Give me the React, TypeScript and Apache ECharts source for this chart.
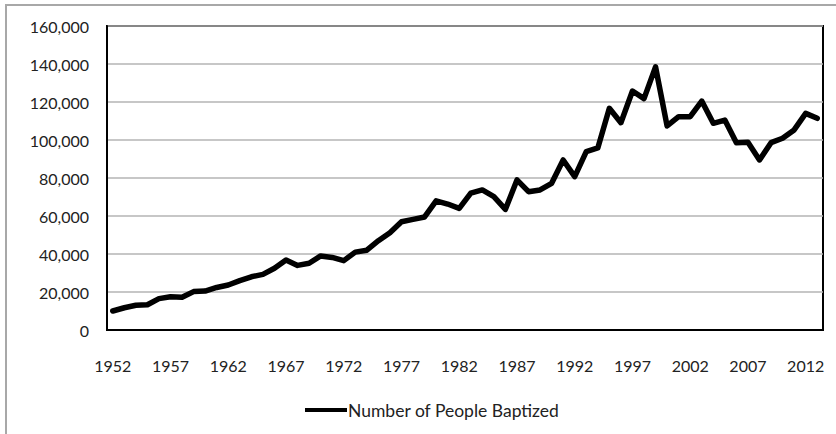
import React, { useEffect, useRef } from "react";
import * as echarts from "echarts";

const years: string[] = [
  "1952","1953","1954","1955","1956","1957","1958","1959","1960","1961",
  "1962","1963","1964","1965","1966","1967","1968","1969","1970","1971",
  "1972","1973","1974","1975","1976","1977","1978","1979","1980","1981",
  "1982","1983","1984","1985","1986","1987","1988","1989","1990","1991",
  "1992","1993","1994","1995","1996","1997","1998","1999","2000","2001",
  "2002","2003","2004","2005","2006","2007","2008","2009","2010","2011",
  "2012","2013",
];

const baptized: number[] = [
  10000, 11700, 13000, 13300, 16500, 17500, 17200, 20200, 20500, 22400,
  23700, 26000, 28000, 29300, 32500, 36800, 34000, 35100, 39000, 38200,
  36500, 41000, 42000, 47000, 51200, 57000, 58200, 59500, 68000, 66300,
  64000, 72000, 73700, 70200, 63500, 79000, 72800, 73700, 77200, 89500,
  80700, 93900, 95800, 116700, 109100, 125800, 121800, 138500, 107400, 112300,
  112300, 120500, 108800, 110500, 98600, 98800, 89500, 98600, 100900, 105300,
  114000, 111400,
];

const seriesName = "Number of People Baptized";
const yMin = 0;
const yMax = 160000;
const yStep = 20000;

export default function App() {
  const ref = useRef<HTMLDivElement>(null);
  useEffect(() => {
    if (!ref.current) return;
    const chart = echarts.init(ref.current, null, { renderer: "svg" });
    const font = "Lato, 'Open Sans', sans-serif";
    chart.setOption({
      animation: false,
      backgroundColor: "#ffffff",
      textStyle: { fontFamily: font },
      graphic: [
        {
          type: "rect",
          shape: { x: 6, y: 5, width: 900, height: 900 },
          style: { fill: "none", stroke: "#a8a8a8", lineWidth: 2 },
          silent: true,
          z: -1,
        },
      ],
      grid: {
        left: 107,
        top: 26,
        right: 13,
        bottom: 104,
        show: true,
        borderColor: "#000000",
        borderWidth: 2,
        backgroundColor: "transparent",
      },
      legend: {
        data: [{ name: seriesName, icon: "rect" }],
        left: 300,
        top: 396,
        itemWidth: 42,
        itemHeight: 4,
        itemGap: 10,
        textStyle: { fontFamily: font, fontSize: 17.5, color: "#222", padding: [0, 0, 0, -4] },
      },
      xAxis: {
        type: "category",
        data: years,
        boundaryGap: true,
        axisLine: { show: true, lineStyle: { color: "#000", width: 2 } },
        axisTick: { show: false },
        axisLabel: {
          interval: 4,
          fontSize: 16,
          color: "#222",
          margin: 27,
          fontFamily: font,
        },
        splitLine: { show: false },
      },
      yAxis: {
        type: "value",
        min: yMin,
        max: yMax,
        interval: yStep,
        axisLine: { show: true, lineStyle: { color: "#000", width: 2 } },
        axisTick: { show: false },
        axisLabel: {
          fontSize: 16,
          color: "#222",
          margin: 18,
          fontFamily: font,
          formatter: (v: number) => v.toLocaleString("en-US"),
        },
        splitLine: { show: true, lineStyle: { color: "#b4b4b4", width: 1.5 } },
      },
      series: [
        {
          name: seriesName,
          type: "line",
          data: baptized,
          showSymbol: false,
          symbol: "none",
          lineStyle: { color: "#000", width: 5.5, cap: "round", join: "round" },
          itemStyle: { color: "#000" },
          z: 3,
        },
      ],
    });
    return () => chart.dispose();
  }, []);
  return (
    <div
      ref={ref}
      style={{ position: "fixed", left: 0, top: 0, width: 836, height: 434 }}
    />
  );
}
